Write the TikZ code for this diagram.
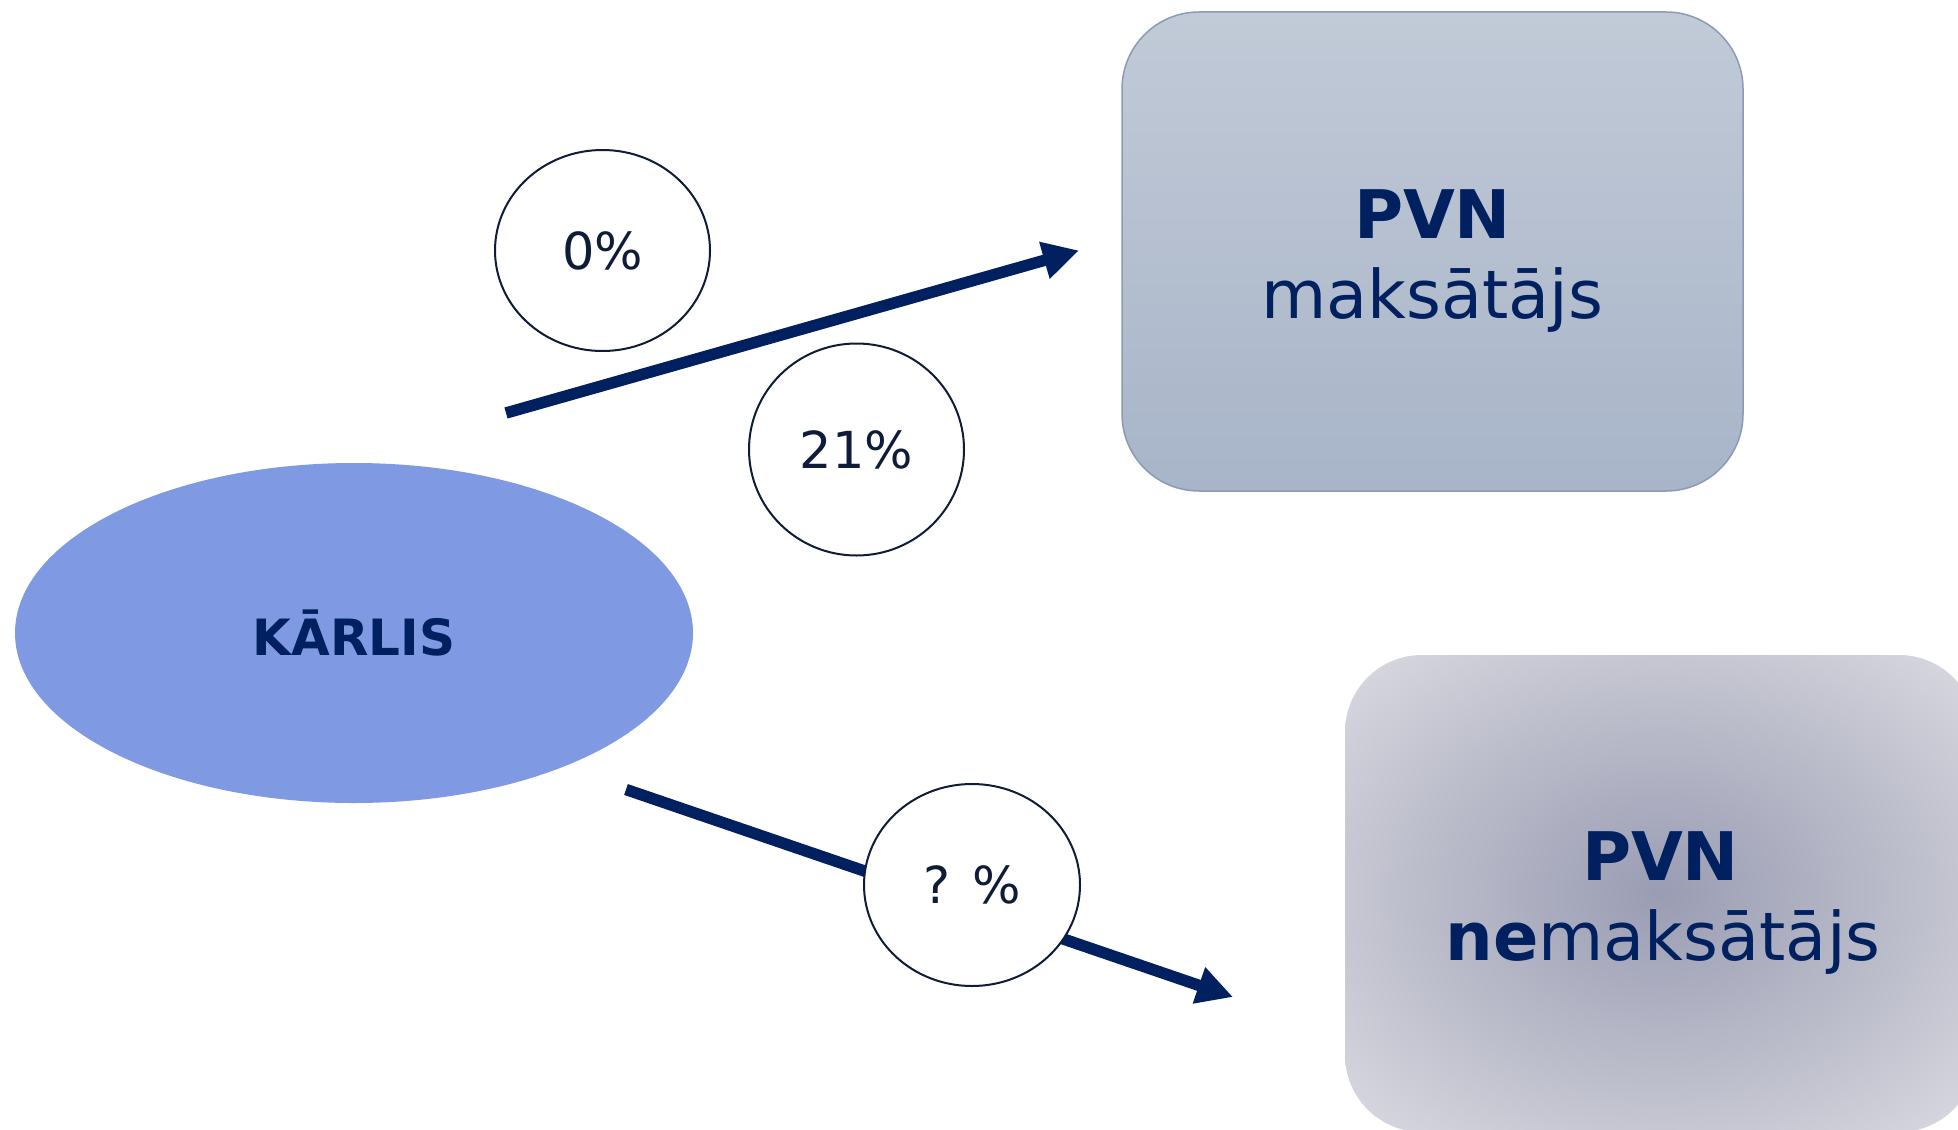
\documentclass[tikz,border=0pt]{standalone}
\usepackage{fontspec}
\setmainfont{DejaVu Sans}
\usetikzlibrary{arrows.meta,shapes.geometric}
\definecolor{navy}{HTML}{002060}
\definecolor{ink}{HTML}{0E1C38}
\definecolor{blobblue}{HTML}{7F9AE3}
\definecolor{boxtop}{HTML}{C1CAD7}
\definecolor{boxbottom}{HTML}{A8B4C8}
\definecolor{boxedge}{HTML}{8C9BB5}
\definecolor{glowin}{HTML}{9A9CB3}
\definecolor{glowmid}{HTML}{C6C7D2}
\definecolor{glowout}{HTML}{DADBE2}
\pgfdeclareradialshading{boxglow}{\pgfpoint{0bp}{0bp}}{color(0bp)=(glowin); color(25bp)=(glowmid); color(36bp)=(glowout); color(50bp)=(glowout)}
\tikzset{
  roundbox/.style={rectangle, rounded corners=77pt, inner sep=0pt},
  boxtext/.style={anchor=base, inner sep=0pt, text=navy, font=\fontsize{67}{80}\selectfont},
  ratebubble/.style={ellipse, draw=ink, line width=2pt, fill=white, inner sep=0pt,
    text=ink, font=\fontsize{51}{60}\selectfont},
  flowarrow/.style={draw=navy, line width=11.5pt, -{Triangle[length=36pt,width=36pt]}},
}
\begin{document}
\begin{tikzpicture}[x=1pt,y=-1pt]
\useasboundingbox (0,0) rectangle (1958,1129);
\clip (0,0) rectangle (1958,1129);
% bottom box (non-payer)
\node[roundbox, shading=boxglow, minimum width=631pt, minimum height=477pt] (nonpayer) at (1660.5,893.5) {};
\node[boxtext] (nonpayerA) at (1660.5,880) {\bfseries PVN};
\node[boxtext] (nonpayerB) at (1663,960) {\textbf{ne}maksātājs};
% top box (payer)
\node[roundbox, draw=boxedge, line width=1.5pt, top color=boxtop, bottom color=boxbottom, minimum width=621pt, minimum height=479pt] (payer) at (1432.5,251.5) {};
\node[boxtext] (payerA) at (1432.5,238) {\bfseries PVN};
\node[boxtext] (payerB) at (1432.5,318) {maksātājs};
% Karlis
\node[ellipse, fill=blobblue, inner sep=0pt, minimum width=678pt, minimum height=340pt,
  text=navy, font=\fontsize{50}{60}\selectfont\bfseries] (karlis) at (354,633) {KĀRLIS};
% arrows
\coordinate (tailA) at (506,413);
\coordinate (tipA) at (1079,250.5);
\coordinate (tailB) at (626,789.5);
\coordinate (tipB) at (1233,997);
\draw[flowarrow] (tailA) -- (tipA);
\draw[flowarrow] (tailB) -- (tipB);
% rate bubbles
\node[ratebubble, minimum width=215pt, minimum height=201pt] (zero) at (602.5,250.5) {0\%};
\node[ratebubble, minimum width=215pt, minimum height=212pt] (full) at (856.5,449.5) {21\%};
\node[ratebubble, minimum width=216pt, minimum height=202pt] (unknown) at (972,885) {? \%};
\end{tikzpicture}
\end{document}
